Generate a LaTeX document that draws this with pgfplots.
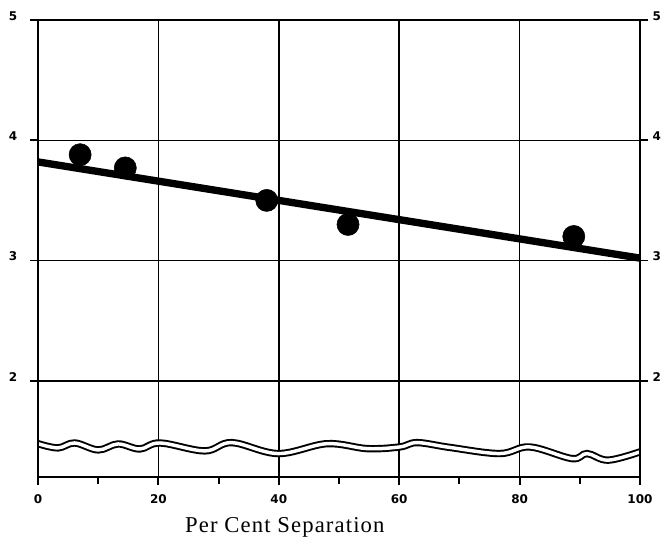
\documentclass[border=0pt]{standalone}
\usepackage{fontspec}
\setmainfont{Liberation Serif}
\newfontfamily\tickfont{DejaVu Sans}
\newfontfamily\labelfont[LetterSpace=5]{Liberation Serif}
\usepackage{pgfplots}
\pgfplotsset{compat=1.18}
\begin{document}
\begin{tikzpicture}
\path[use as bounding box] (-28.5pt,-48.75pt) rectangle (471pt,357.75pt);
\begin{axis}[
  at={(0,0)}, anchor=south west,
  width=451.5pt, height=342.75pt, scale only axis,
  xmin=0, xmax=100, ymin=1.2, ymax=5,
  xtick={0,20,...,100}, minor xtick={10,30,...,90},
  ytick={2,3,4,5},
  xtick pos=bottom, ytick pos=left,
  tick align=outside,
  major tick length=6pt, minor tick length=5pt,
  every tick/.style={black, line width=1.4pt},
  xmajorgrids, ymajorgrids,
  grid style={black, line width=1.1pt},
  axis line style={line width=2pt},
  /pgf/number format/assume math mode=true,
  tick label style={font=\tickfont\bfseries\fontsize{9}{11}\selectfont},
  yticklabel style={xshift=-6pt, yshift=3pt},
  xticklabel style={yshift=-4pt},
  xlabel={Per Cent Separation},
  xlabel style={font=\labelfont\fontsize{17}{19}\selectfont, at={(axis description cs:0.41,0)}, anchor=north, yshift=-27pt},
]
% wavy break (double line)
\addplot[black, line width=5.5pt, smooth, tension=0.6] coordinates {
 (0,1.477) (3.3,1.442) (6.1,1.483) (10,1.425) (13.3,1.475) (16.9,1.433) (20.3,1.483)
 (27.7,1.417) (32.2,1.486) (39.9,1.395) (48,1.477) (54.7,1.436) (60.1,1.450)
 (63,1.486) (68.4,1.446) (76.7,1.395) (81.7,1.450) (88.7,1.353) (91.2,1.395)
 (94.7,1.340) (100,1.409)};
\addplot[white, line width=2.6pt, smooth, tension=0.6] coordinates {
 (0,1.477) (3.3,1.442) (6.1,1.483) (10,1.425) (13.3,1.475) (16.9,1.433) (20.3,1.483)
 (27.7,1.417) (32.2,1.486) (39.9,1.395) (48,1.477) (54.7,1.436) (60.1,1.450)
 (63,1.486) (68.4,1.446) (76.7,1.395) (81.7,1.450) (88.7,1.353) (91.2,1.395)
 (94.7,1.340) (100,1.409)};
% trend line
\addplot[black, line width=5.5pt] coordinates {(0,3.82) (100,3.02)};
% data points
\addplot[only marks, mark=*, mark size=8.3pt, black] coordinates {
 (7,3.88) (14.5,3.77) (38,3.50) (51.5,3.30) (89,3.20)};
\end{axis}
\begin{axis}[
  at={(0,0)}, anchor=south west,
  width=451.5pt, height=342.75pt, scale only axis,
  xmin=0, xmax=100, ymin=1.2, ymax=5,
  xtick=\empty, ytick={2,3,4,5},
  ytick pos=right, yticklabel pos=right,
  tick align=outside, major tick length=6pt,
  every tick/.style={black, line width=1.4pt},
  axis line style={line width=2pt},
  /pgf/number format/assume math mode=true,
  tick label style={font=\tickfont\bfseries\fontsize{9}{11}\selectfont},
  yticklabel style={xshift=0pt, yshift=3pt},
]
\end{axis}
\end{tikzpicture}
\end{document}
